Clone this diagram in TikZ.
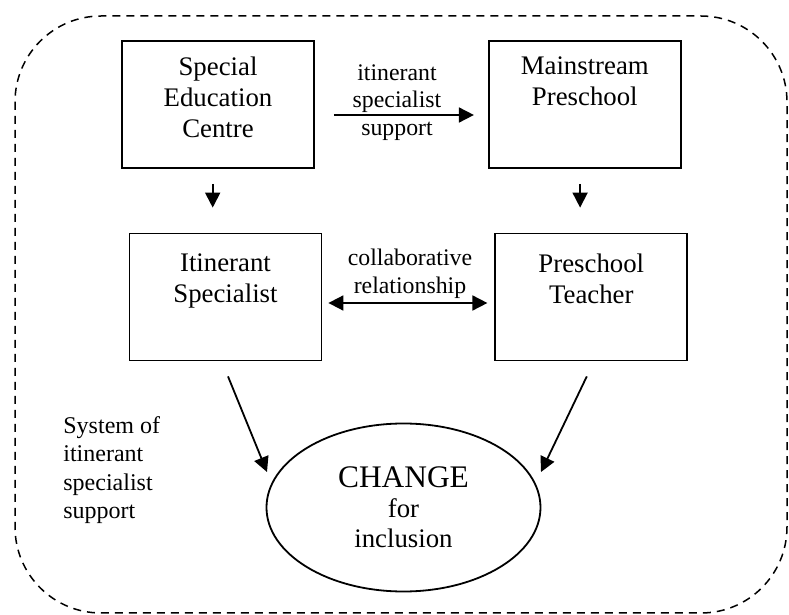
\documentclass[tikz,border=0pt]{standalone}
\usepackage{fontspec}
\setmainfont{Liberation Serif}
\usetikzlibrary{arrows.meta}
\usetikzlibrary{positioning}
\usetikzlibrary{shapes.geometric}
\tikzset{unit node/.style={rectangle,draw,line width=0.9pt,minimum width=96pt,minimum height=63.5pt,inner sep=0pt}}
\tikzset{unit text/.style={align=center,inner sep=0pt,font=\fontsize{13.4}{15.5}\selectfont}}
\tikzset{link text/.style={align=center,inner sep=0pt,font=\fontsize{11.9}{13.8}\selectfont}}
\tikzset{link/.style={line width=0.9pt,->}}
\tikzset{>={Triangle[length=7.5pt,width=7.5pt]}}

\begin{document}
\begin{tikzpicture}[x=0.5pt,y=-0.5pt]
	\useasboundingbox (0,0) rectangle (789,615);
	% the whole system
	\draw[dash pattern=on 4pt off 3pt,line width=0.75pt,rounded corners=43pt] (15,16) rectangle (787,613);

	\node[unit node] (sec) at (218,104.5) {};
	\node[unit node] (msp) [right = 86.5pt of sec] {};
	\node[unit node] (isp) at (225.5,297) {};
	\node[unit node] (pst) [right = 86pt of isp] {};

	\node[unit text] (secT) [below = 8pt of sec.north] {Special\\Education\\Centre};
	\node[unit text] (mspT) [below = 8pt of msp.north] {Mainstream\\Preschool};
	\node[unit text] (ispT) [below = 10.5pt of isp.north] {Itinerant\\Specialist};
	\node[unit text] (pstT) [below = 10.5pt of pst.north] {Preschool\\Teacher};

	\node[ellipse,draw,line width=0.9pt,minimum width=137pt,minimum height=84pt,inner sep=0pt,align=center,font=\fontsize{13.4}{15}\selectfont] (change) at (403.5,507.5) {{\fontsize{15.7}{18}\selectfont CHANGE}\\for\\inclusion};

	\node[link text] (supLbl) at (397,102.5) {itinerant\\specialist\\support};
	\node[link text] (colLbl) at (410,274) {collaborative\\relationship};
	\node[link text,align=left,anchor=west,font=\fontsize{12}{14.2}\selectfont] (sysLbl) at (63,470) {System of\\itinerant\\specialist\\support};

	\coordinate (tipL) at (267,472);
	\coordinate (tipR) at (541,472);

	\draw[link,shorten <=9.5pt,shorten >=7pt] ([yshift=-5.25pt]sec.east) -- ([yshift=-5.25pt]msp.west);
	\draw[link,shorten <=7.5pt,shorten >=12.5pt] ([xshift=-2.65pt]sec.south) -- ([xshift=-2.65pt]sec.south |- isp.north);
	\draw[link,shorten <=7.5pt,shorten >=12.5pt] ([xshift=-2.35pt]msp.south) -- ([xshift=-2.35pt]msp.south |- pst.north);
	\draw[link,<->,shorten <=3pt,shorten >=3.5pt] ([yshift=-3pt]isp.east) -- ([yshift=-3pt]pst.west);
	\draw[link] ([shift={(1.25pt,-7.5pt)}]isp.south) -- (tipL);
	\draw[link] ([shift={(-2.25pt,-7.5pt)}]pst.south) -- (tipR);
\end{tikzpicture}
\end{document}
